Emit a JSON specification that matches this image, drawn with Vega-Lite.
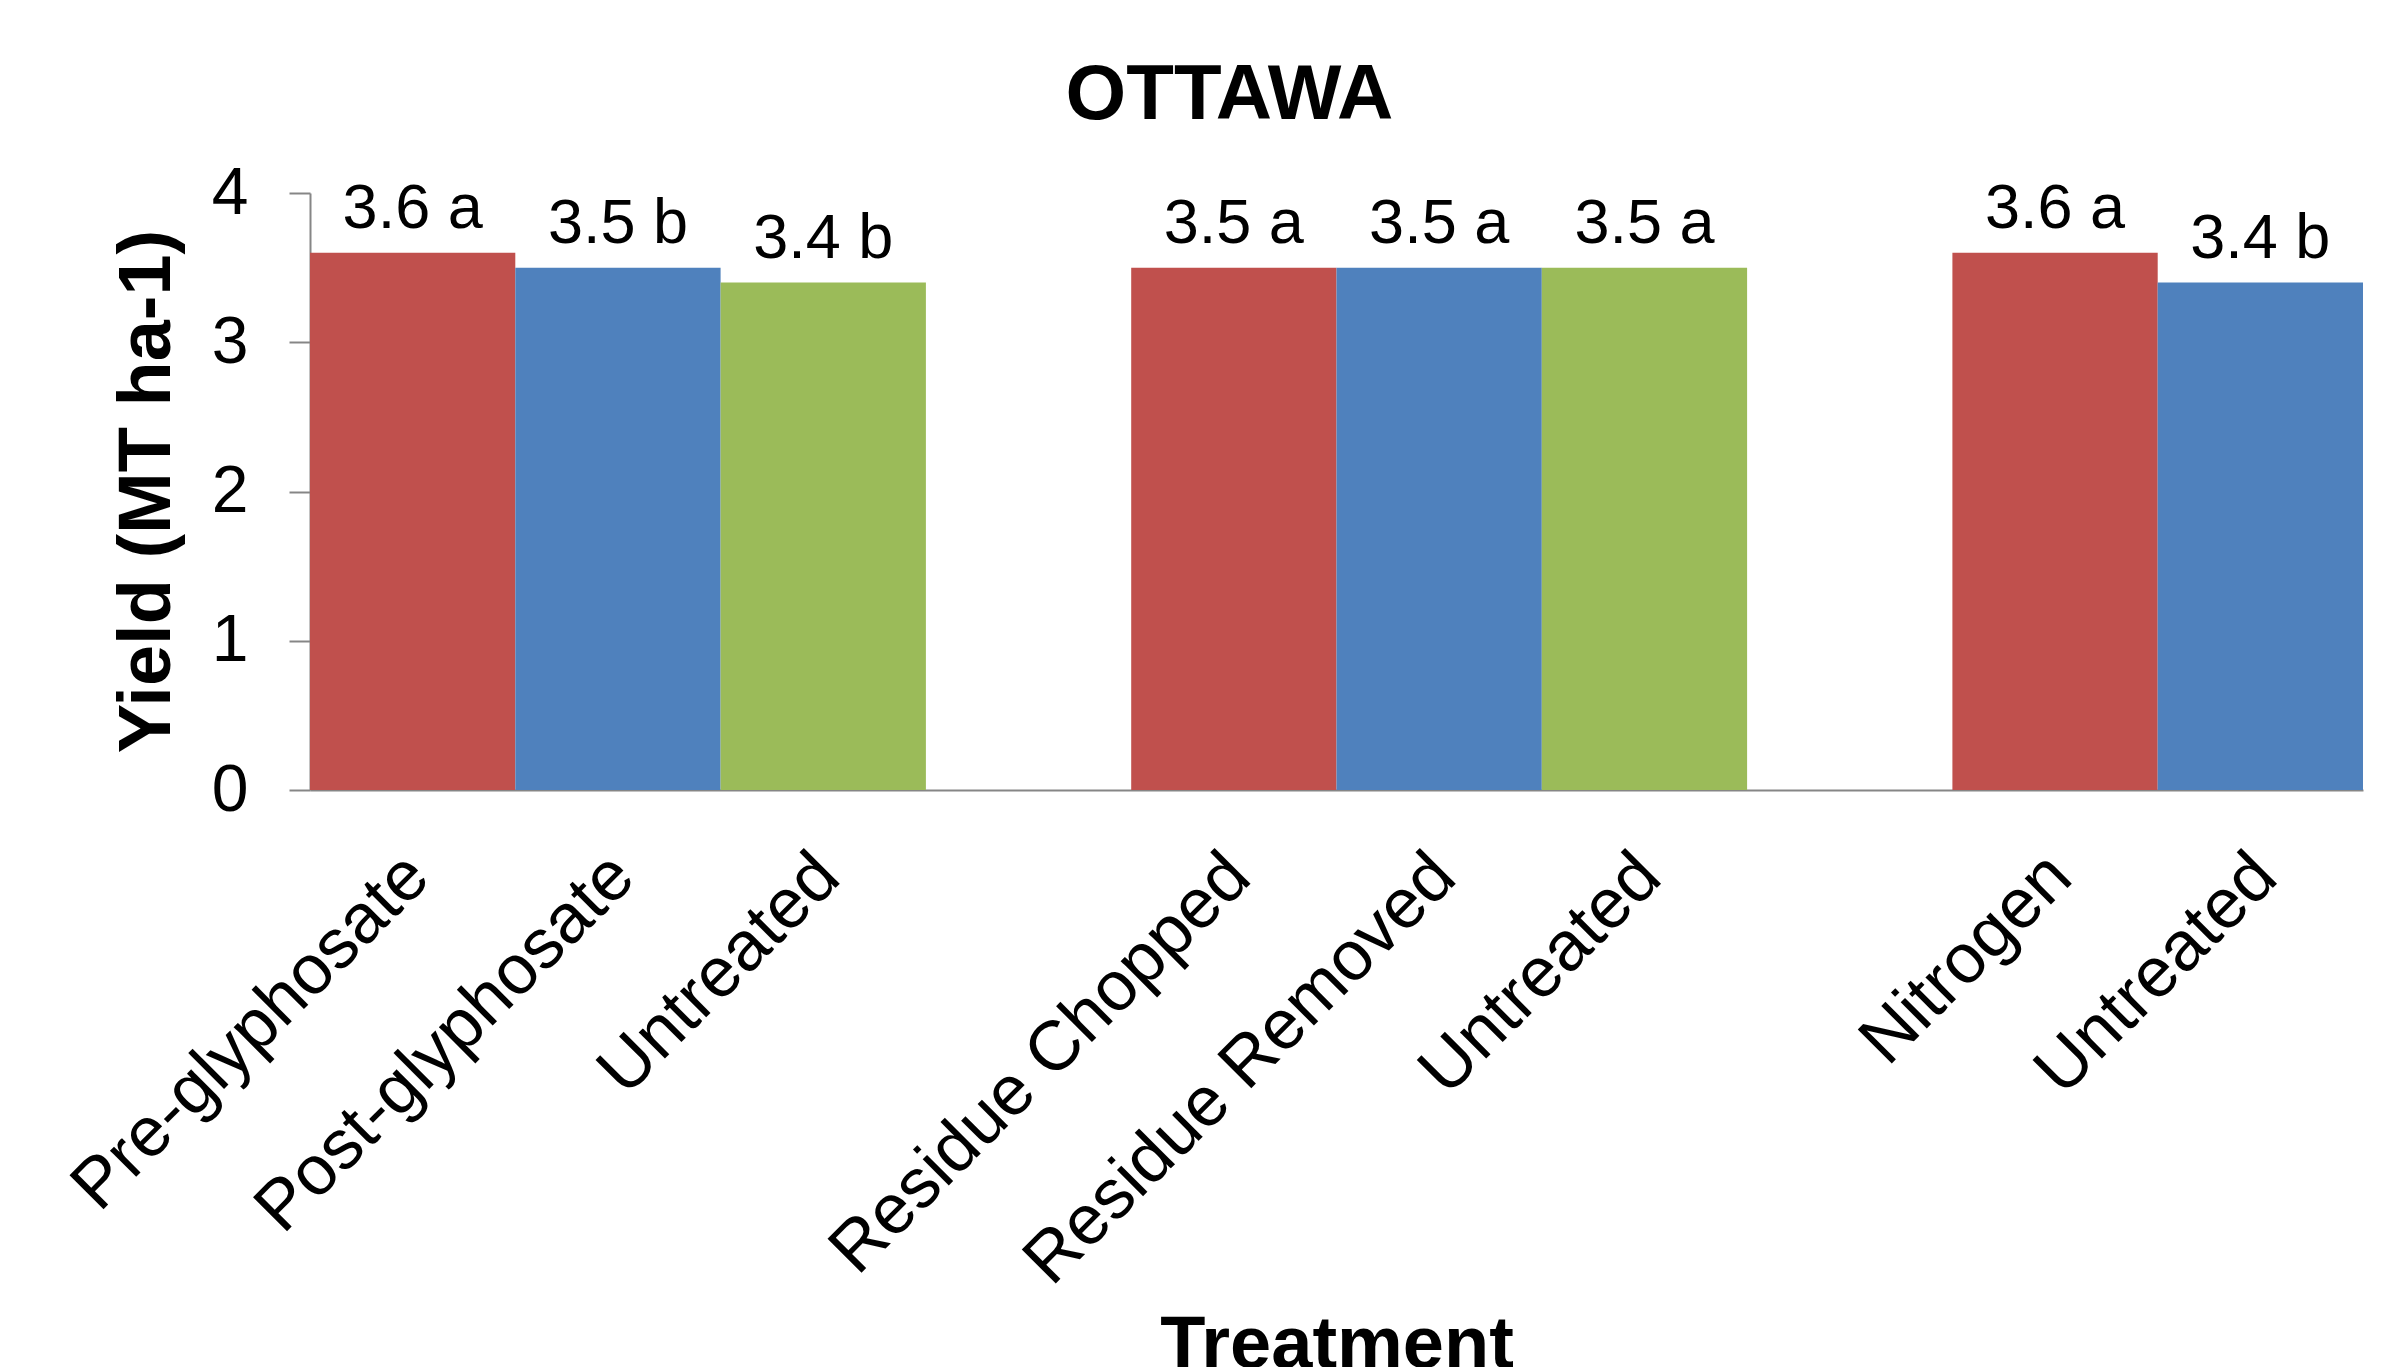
{
  "$schema": "https://vega.github.io/schema/vega-lite/v6.json",
  "autosize": {"type": "none"},
  "width": 2053,
  "height": 597,
  "padding": {"left": 310, "top": 193, "right": 31, "bottom": 577},
  "background": "white",
  "config": {
    "font": "Liberation Sans",
    "view": {"stroke": null}
  },
  "title": {
    "text": "OTTAWA",
    "fontSize": 78,
    "fontWeight": "bold",
    "font": "Liberation Sans",
    "color": "black",
    "anchor": "middle",
    "frame": "group",
    "dx": -107,
    "dy": 83,
    "baseline": "alphabetic",
    "offset": 46
  },
  "data": {
    "values": [
      {"slot": "Pre-glyphosate|1", "treatment": "Pre-glyphosate", "position": "1", "yield": 3.6, "label": "3.6 a"},
      {"slot": "Post-glyphosate|1", "treatment": "Post-glyphosate", "position": "2", "yield": 3.5, "label": "3.5 b"},
      {"slot": "Untreated|1", "treatment": "Untreated", "position": "3", "yield": 3.4, "label": "3.4 b"},
      {"slot": "Residue Chopped|2", "treatment": "Residue Chopped", "position": "1", "yield": 3.5, "label": "3.5 a"},
      {"slot": "Residue Removed|2", "treatment": "Residue Removed", "position": "2", "yield": 3.5, "label": "3.5 a"},
      {"slot": "Untreated|2", "treatment": "Untreated", "position": "3", "yield": 3.5, "label": "3.5 a"},
      {"slot": "Nitrogen|3", "treatment": "Nitrogen", "position": "1", "yield": 3.6, "label": "3.6 a"},
      {"slot": "Untreated|3", "treatment": "Untreated", "position": "2", "yield": 3.4, "label": "3.4 b"}
    ]
  },
  "encoding": {
    "x": {
      "field": "slot",
      "type": "nominal",
      "sort": null,
      "scale": {
        "domain": ["Pre-glyphosate|1", "Post-glyphosate|1", "Untreated|1", "|gap1",
                   "Residue Chopped|2", "Residue Removed|2", "Untreated|2", "|gap2",
                   "Nitrogen|3", "Untreated|3"],
        "paddingInner": 0,
        "paddingOuter": 0
      },
      "axis": {
        "title": "Treatment",
        "titleFontSize": 74,
        "titleFontWeight": "bold",
        "titleColor": "black",
        "titleBaseline": "alphabetic",
        "titleY": 577,
        "labelExpr": "split(datum.value, '|')[0]",
        "labelAngle": -45,
        "labelAlign": "right",
        "labelBaseline": "top",
        "labelFontSize": 70,
        "labelColor": "black",
        "labelPadding": 51,
        "labelOffset": -19,
        "labelLimit": 0,
        "labelOverlap": false,
        "ticks": false,
        "domainColor": "#868686",
        "domainWidth": 2
      }
    },
    "y": {
      "field": "yield",
      "type": "quantitative",
      "scale": {"domain": [0, 4], "nice": false},
      "axis": {
        "title": "Yield (MT ha-1)",
        "titleFontSize": 74,
        "titleFontWeight": "bold",
        "titleColor": "black",
        "titleBaseline": "alphabetic",
        "titleX": -141,
        "titleY": 298,
        "values": [0, 1, 2, 3, 4],
        "grid": false,
        "labelFontSize": 66,
        "labelColor": "black",
        "labelPadding": 41,
        "tickSize": 21,
        "tickWidth": 2,
        "tickColor": "#868686",
        "domainColor": "#868686",
        "domainWidth": 2
      }
    }
  },
  "layer": [
    {
      "mark": {"type": "bar", "stroke": null},
      "encoding": {
        "color": {
          "field": "position",
          "type": "nominal",
          "scale": {"domain": ["1", "2", "3"], "range": ["#C0504D", "#4F81BD", "#9BBB59"]},
          "legend": null
        }
      }
    },
    {
      "mark": {"type": "text", "fontSize": 63, "color": "black", "baseline": "alphabetic", "dy": -25},
      "encoding": {
        "text": {"field": "label"}
      }
    }
  ]
}
